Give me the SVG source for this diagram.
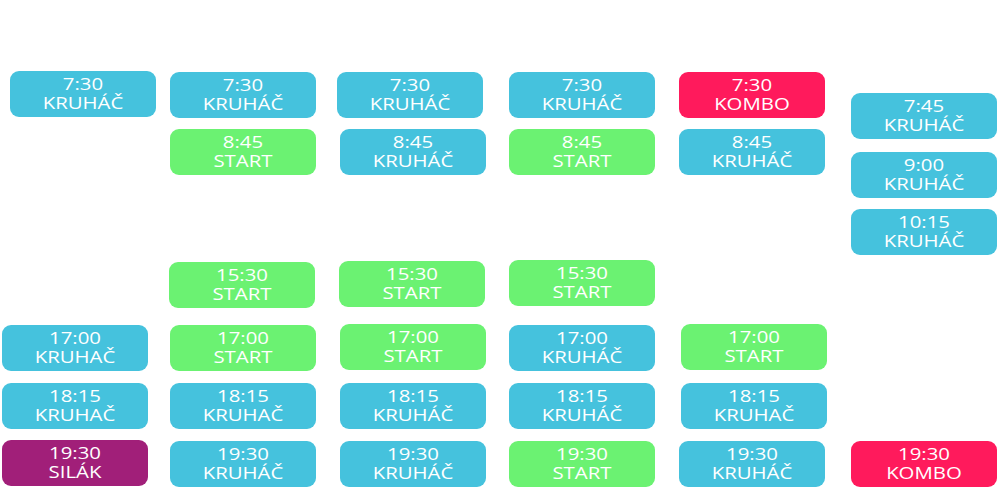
<svg xmlns="http://www.w3.org/2000/svg" width="1000" height="500" viewBox="0 0 1000 500">
<style>
rect{rx:9px;ry:9px;}
.b rect{fill:#45c2dd}
.g rect{fill:#6bf272}
.r rect{fill:#ff1a5c}
.p rect{fill:#a11f79}
text{font-family:"Open Sans","DejaVu Sans",sans-serif;font-size:17px;fill:#fff;text-anchor:middle;transform:scale(1.2,1);transform-origin:73px 0px}
</style>
<rect x="0" y="0" width="1000" height="500" rx="0" ry="0" style="fill:#fff"/>
<g id="connectors"></g>
<g id="c1r1" class="b" transform="translate(10,71)"><rect width="146" height="46"/><text x="73" y="19">7:30</text><text x="73" y="38">KRUHÁČ</text></g>
<g id="c1r4" class="b" transform="translate(2,325)"><rect width="146" height="46"/><text x="73" y="19">17:00</text><text x="73" y="38">KRUHAČ</text></g>
<g id="c1r5" class="b" transform="translate(2,383)"><rect width="146" height="46"/><text x="73" y="19">18:15</text><text x="73" y="38">KRUHAČ</text></g>
<g id="c1r6" class="p" transform="translate(2,440)"><rect width="146" height="46"/><text x="73" y="19">19:30</text><text x="73" y="38">SILÁK</text></g>

<g id="c2r1" class="b" transform="translate(170,72)"><rect width="146" height="46"/><text x="73" y="19">7:30</text><text x="73" y="38">KRUHÁČ</text></g>
<g id="c2r2" class="g" transform="translate(170,129)"><rect width="146" height="46"/><text x="73" y="19">8:45</text><text x="73" y="38">START</text></g>
<g id="c2r3" class="g" transform="translate(169,262)"><rect width="146" height="46"/><text x="73" y="19">15:30</text><text x="73" y="38">START</text></g>
<g id="c2r4" class="g" transform="translate(170,325)"><rect width="146" height="46"/><text x="73" y="19">17:00</text><text x="73" y="38">START</text></g>
<g id="c2r5" class="b" transform="translate(170,383)"><rect width="146" height="46"/><text x="73" y="19">18:15</text><text x="73" y="38">KRUHAČ</text></g>
<g id="c2r6" class="b" transform="translate(170,441)"><rect width="146" height="46"/><text x="73" y="19">19:30</text><text x="73" y="38">KRUHÁČ</text></g>

<g id="c3r1" class="b" transform="translate(337,72)"><rect width="146" height="46"/><text x="73" y="19">7:30</text><text x="73" y="38">KRUHÁČ</text></g>
<g id="c3r2" class="b" transform="translate(340,129)"><rect width="146" height="46"/><text x="73" y="19">8:45</text><text x="73" y="38">KRUHÁČ</text></g>
<g id="c3r3" class="g" transform="translate(339,261)"><rect width="146" height="46"/><text x="73" y="19">15:30</text><text x="73" y="38">START</text></g>
<g id="c3r4" class="g" transform="translate(340,324)"><rect width="146" height="46"/><text x="73" y="19">17:00</text><text x="73" y="38">START</text></g>
<g id="c3r5" class="b" transform="translate(340,383)"><rect width="146" height="46"/><text x="73" y="19">18:15</text><text x="73" y="38">KRUHÁČ</text></g>
<g id="c3r6" class="b" transform="translate(340,441)"><rect width="146" height="46"/><text x="73" y="19">19:30</text><text x="73" y="38">KRUHÁČ</text></g>

<g id="c4r1" class="b" transform="translate(509,72)"><rect width="146" height="46"/><text x="73" y="19">7:30</text><text x="73" y="38">KRUHÁČ</text></g>
<g id="c4r2" class="g" transform="translate(509,129)"><rect width="146" height="46"/><text x="73" y="19">8:45</text><text x="73" y="38">START</text></g>
<g id="c4r3" class="g" transform="translate(509,260)"><rect width="146" height="46"/><text x="73" y="19">15:30</text><text x="73" y="38">START</text></g>
<g id="c4r4" class="b" transform="translate(509,325)"><rect width="146" height="46"/><text x="73" y="19">17:00</text><text x="73" y="38">KRUHÁČ</text></g>
<g id="c4r5" class="b" transform="translate(509,383)"><rect width="146" height="46"/><text x="73" y="19">18:15</text><text x="73" y="38">KRUHÁČ</text></g>
<g id="c4r6" class="g" transform="translate(509,441)"><rect width="146" height="46"/><text x="73" y="19">19:30</text><text x="73" y="38">START</text></g>

<g id="c5r1" class="r" transform="translate(679,72)"><rect width="146" height="46"/><text x="73" y="19">7:30</text><text x="73" y="38">KOMBO</text></g>
<g id="c5r2" class="b" transform="translate(679,129)"><rect width="146" height="46"/><text x="73" y="19">8:45</text><text x="73" y="38">KRUHÁČ</text></g>
<g id="c5r4" class="g" transform="translate(681,324)"><rect width="146" height="46"/><text x="73" y="19">17:00</text><text x="73" y="38">START</text></g>
<g id="c5r5" class="b" transform="translate(681,383)"><rect width="146" height="46"/><text x="73" y="19">18:15</text><text x="73" y="38">KRUHAČ</text></g>
<g id="c5r6" class="b" transform="translate(679,441)"><rect width="146" height="46"/><text x="73" y="19">19:30</text><text x="73" y="38">KRUHÁČ</text></g>

<g id="c6r1" class="b" transform="translate(851,93)"><rect width="146" height="46"/><text x="73" y="19">7:45</text><text x="73" y="38">KRUHÁČ</text></g>
<g id="c6r2" class="b" transform="translate(851,152)"><rect width="146" height="46"/><text x="73" y="19">9:00</text><text x="73" y="38">KRUHÁČ</text></g>
<g id="c6r3" class="b" transform="translate(851,209)"><rect width="146" height="46"/><text x="73" y="19">10:15</text><text x="73" y="38">KRUHÁČ</text></g>
<g id="c6r6" class="r" transform="translate(851,441)"><rect width="146" height="46"/><text x="73" y="19">19:30</text><text x="73" y="38">KOMBO</text></g>
</svg>
